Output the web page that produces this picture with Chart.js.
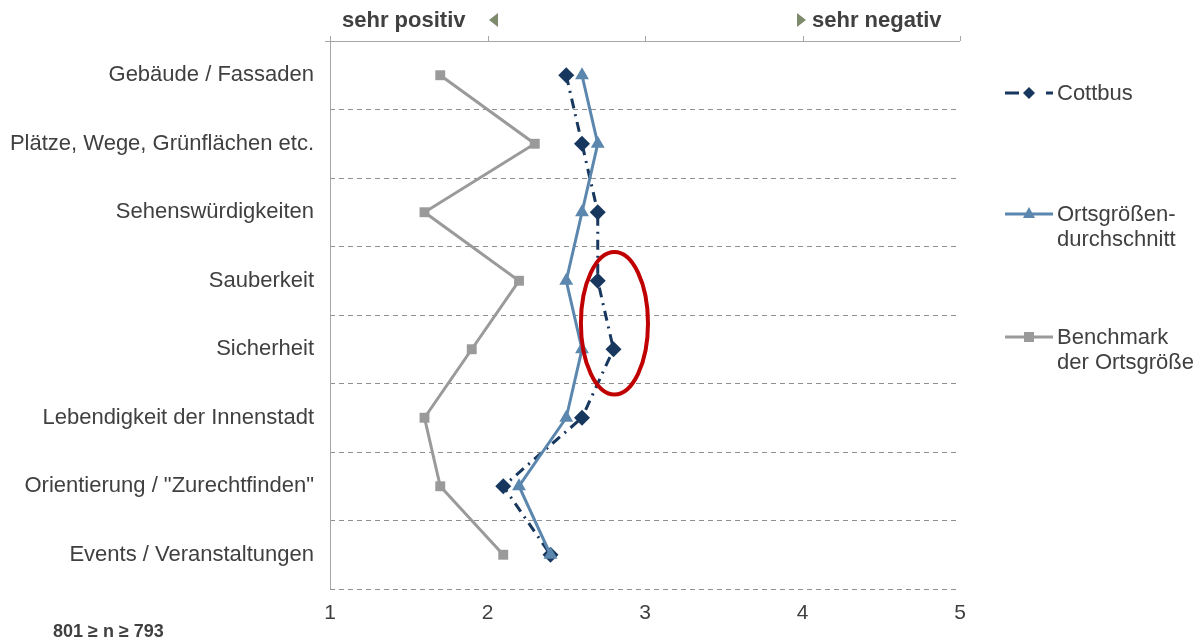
<!DOCTYPE html>
<html lang="de">
<head>
<meta charset="utf-8">
<title>Image der Innenstadt – Cottbus</title>
<script src="https://cdn.jsdelivr.net/npm/chart.js@4/dist/chart.umd.min.js"></script>
<style>
  html, body { margin: 0; padding: 0; background: #ffffff; }
  #wrap { width: 1202px; height: 643px; position: relative; }
</style>
</head>
<body>
<div id="wrap"><canvas id="c" width="1202" height="643"></canvas></div>
<script>
// Bewertungskategorien (oben nach unten)
const categories = [
  'Gebäude / Fassaden',
  'Plätze, Wege, Grünflächen etc.',
  'Sehenswürdigkeiten',
  'Sauberkeit',
  'Sicherheit',
  'Lebendigkeit der Innenstadt',
  'Orientierung / "Zurechtfinden"',
  'Events / Veranstaltungen'
];

// Mittelwerte (1 = sehr positiv, 5 = sehr negativ)
const cottbus   = [2.5, 2.6, 2.7, 2.7, 2.8, 2.6, 2.1, 2.4];
const ortsDurch = [2.6, 2.7, 2.6, 2.5, 2.6, 2.5, 2.2, 2.4];
const benchmark = [1.7, 2.3, 1.6, 2.2, 1.9, 1.6, 1.7, 2.1];

const xTicks = [1, 2, 3, 4, 5];
const seriesNames = ['Cottbus', ['Ortsgrößen-', 'durchschnitt'], ['Benchmark', 'der Ortsgröße']];
const sampleNote = '801 \u2265 n \u2265 793';

const FONT = '"Liberation Sans", Arial, sans-serif';
const TEXT = '#404040';
const C_COTT = '#17375e';
const C_ORTS = '#5b86ad';
const C_BENCH = '#9a9a9a';
const AXIS = '#a6a6a6';

// Kopfzeile, Achsenlinien, Legende und Markierung
const decorations = {
  id: 'decorations',
  afterDraw(chart) {
    const ctx = chart.ctx;
    const a = chart.chartArea;
    const xs = chart.scales.x;
    const ys = chart.scales.y;
    ctx.save();

    // obere Achse mit Teilstrichen und linke Achse
    ctx.strokeStyle = AXIS;
    ctx.lineWidth = 1;
    ctx.setLineDash([]);
    ctx.beginPath();
    ctx.moveTo(a.left - 5, a.top + 0.5);
    ctx.lineTo(a.right, a.top + 0.5);
    xTicks.forEach(v => {
      const px = Math.round(xs.getPixelForValue(v)) + 0.5;
      ctx.moveTo(px, a.top);
      ctx.lineTo(px, a.top - 5);
    });
    const lx = Math.round(a.left) + 0.5;
    ctx.moveTo(lx, a.top - 5);
    ctx.lineTo(lx, a.bottom);
    ctx.stroke();

    // Skalenbeschriftung oben
    ctx.fillStyle = TEXT;
    ctx.font = 'bold 22px ' + FONT;
    ctx.textBaseline = 'middle';
    ctx.textAlign = 'left';
    ctx.fillText('sehr positiv', 342, 21);
    ctx.fillText('sehr negativ', 812, 21);
    ctx.fillStyle = '#7d8b6c';
    ctx.beginPath();
    ctx.moveTo(489, 20); ctx.lineTo(498, 13); ctx.lineTo(498, 27); ctx.closePath(); ctx.fill();
    ctx.beginPath();
    ctx.moveTo(806, 20); ctx.lineTo(797, 13); ctx.lineTo(797, 27); ctx.closePath(); ctx.fill();

    // Fallzahl
    ctx.fillStyle = TEXT;
    ctx.font = 'bold 18px ' + FONT;
    ctx.fillText(sampleNote, 53, 632);

    // Legende
    const lx0 = 1005, lx1 = 1053, tx = 1057;
    const rows = [
      { y: 93, color: C_COTT, dash: true, style: 'diamond' },
      { y: 214, color: C_ORTS, dash: false, style: 'triangle' },
      { y: 337, color: C_BENCH, dash: false, style: 'square' }
    ];
    rows.forEach((r, i) => {
      ctx.strokeStyle = r.color;
      ctx.fillStyle = r.color;
      ctx.lineWidth = 3;
      ctx.beginPath();
      if (r.dash) {
        ctx.moveTo(lx0, r.y); ctx.lineTo(lx0 + 14, r.y);
        ctx.moveTo(lx1 - 7, r.y); ctx.lineTo(lx1, r.y);
      } else {
        ctx.moveTo(lx0, r.y); ctx.lineTo(lx1, r.y);
      }
      ctx.stroke();
      const mx = 1029;
      ctx.beginPath();
      if (r.style === 'diamond') {
        ctx.moveTo(mx, r.y - 6); ctx.lineTo(mx + 6, r.y); ctx.lineTo(mx, r.y + 6); ctx.lineTo(mx - 6, r.y);
      } else if (r.style === 'triangle') {
        ctx.moveTo(mx, r.y - 7); ctx.lineTo(mx + 6, r.y + 4); ctx.lineTo(mx - 6, r.y + 4);
      } else {
        ctx.rect(mx - 5, r.y - 5, 10, 10);
      }
      ctx.closePath();
      ctx.fill();
      const name = seriesNames[i];
      const lines = Array.isArray(name) ? name : [name];
      ctx.fillStyle = TEXT;
      ctx.font = '22px ' + FONT;
      lines.forEach((t, k) => ctx.fillText(t, tx, r.y + 1 + k * 25));
    });

    // Hervorhebung Sauberkeit / Sicherheit
    const cx = xs.getPixelForValue(2.806);
    const cy = ys.getPixelForValue(3.62);
    const rx = xs.getPixelForValue(2.806 + 0.213) - cx;
    const ry = ys.getPixelForValue(3.62 + 1.04) - cy;
    ctx.strokeStyle = '#c00000';
    ctx.lineWidth = 4;
    ctx.beginPath();
    ctx.ellipse(cx, cy, rx, ry, 0, 0, Math.PI * 2);
    ctx.stroke();

    ctx.restore();
  }
};

new Chart(document.getElementById('c'), {
  type: 'line',
  data: {
    labels: categories,
    datasets: [
      {
        label: 'Ortsgrößendurchschnitt',
        data: ortsDurch,
        borderColor: C_ORTS,
        backgroundColor: C_ORTS,
        borderWidth: 3,
        pointStyle: 'triangle',
        pointRadius: 8,
        pointBorderWidth: 0,
        tension: 0,
        order: 0
      },
      {
        label: 'Cottbus',
        data: cottbus,
        borderColor: C_COTT,
        backgroundColor: C_COTT,
        borderWidth: 3,
        borderDash: [10, 6, 2, 6],
        pointStyle: 'rectRot',
        pointRadius: 8,
        pointBorderWidth: 0,
        tension: 0,
        order: 1
      },
      {
        label: 'Benchmark der Ortsgröße',
        data: benchmark,
        borderColor: C_BENCH,
        backgroundColor: C_BENCH,
        borderWidth: 3,
        pointStyle: 'rect',
        pointRadius: 7,
        pointBorderWidth: 0,
        tension: 0,
        order: 2
      }
    ]
  },
  options: {
    indexAxis: 'y',
    responsive: false,
    animation: false,
    layout: { padding: { left: 0, right: 242, top: 41, bottom: 0 } },
    plugins: { legend: { display: false }, tooltip: { enabled: false } },
    scales: {
      x: {
        type: 'linear',
        position: 'bottom',
        min: 1,
        max: 5,
        afterBuildTicks(scale) { scale.ticks = xTicks.map(v => ({ value: v })); },
        afterFit(scale) { scale.height = 54; },
        border: { display: false },
        grid: { display: false, drawTicks: false },
        ticks: { color: TEXT, font: { family: FONT, size: 21 }, padding: 12 }
      },
      y: {
        type: 'category',
        offset: true,
        afterFit(scale) { scale.width = 330; },
        // gestrichelte Trennlinien zwischen den Kategorien
        border: { display: false, dash: [5, 4] },
        grid: {
          offset: true,
          drawTicks: false,
          color: '#8f8f8f',
          lineWidth: 1
        },
        ticks: { color: TEXT, font: { family: FONT, size: 22 }, padding: 16, autoSkip: false }
      }
    }
  },
  plugins: [decorations]
});
</script>
</body>
</html>
